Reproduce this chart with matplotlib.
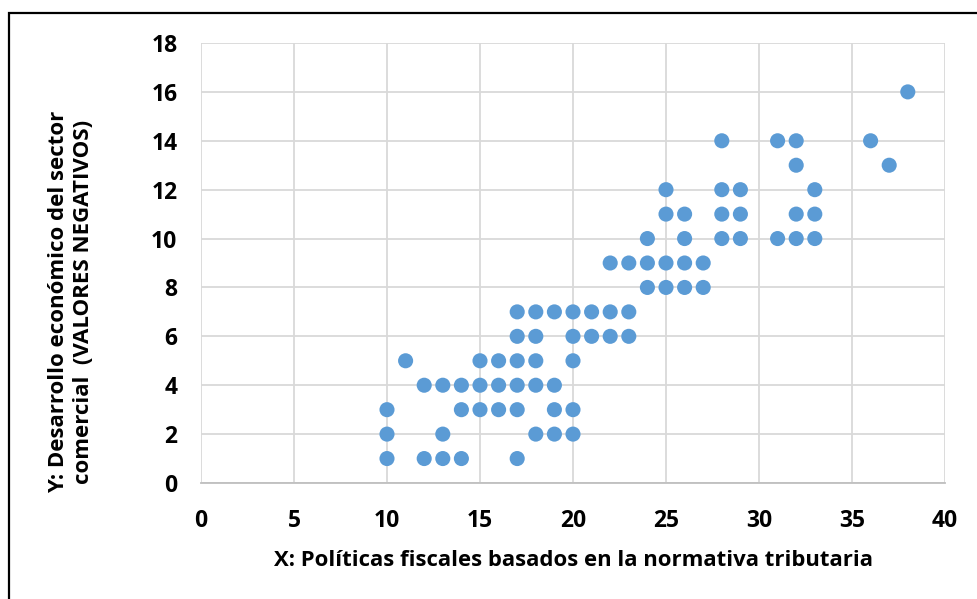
import matplotlib
matplotlib.use("Agg")
import matplotlib.pyplot as plt
from matplotlib.patches import Rectangle

plt.rcParams["font.family"] = ["Open Sans", "DejaVu Sans"]

# Policy score (X) and economic development score (Y) for each respondent
x_values = [
    38,
    28, 31, 32, 36,
    32, 37,
    25, 28, 29, 33,
    25, 26, 28, 29, 32, 33,
    24, 26, 28, 29, 31, 32, 33,
    22, 23, 24, 25, 26, 27,
    24, 25, 26, 27,
    17, 18, 19, 20, 21, 22, 23,
    17, 18, 20, 21, 22, 23,
    11, 15, 16, 17, 18, 20,
    12, 13, 14, 15, 16, 17, 18, 19,
    10, 14, 15, 16, 17, 19, 20,
    10, 13, 18, 19, 20,
    10, 12, 13, 14, 17,
]
y_values = [
    16,
    14, 14, 14, 14,
    13, 13,
    12, 12, 12, 12,
    11, 11, 11, 11, 11, 11,
    10, 10, 10, 10, 10, 10, 10,
    9, 9, 9, 9, 9, 9,
    8, 8, 8, 8,
    7, 7, 7, 7, 7, 7, 7,
    6, 6, 6, 6, 6, 6,
    5, 5, 5, 5, 5, 5,
    4, 4, 4, 4, 4, 4, 4, 4,
    3, 3, 3, 3, 3, 3, 3,
    2, 2, 2, 2, 2,
    1, 1, 1, 1, 1,
]
x_ticks = [0, 5, 10, 15, 20, 25, 30, 35, 40]
y_ticks = [0, 2, 4, 6, 8, 10, 12, 14, 16, 18]
x_label = "X: Políticas fiscales basados en la normativa tributaria"
y_label = "Y: Desarrollo económico del sector\ncomercial  (VALORES NEGATIVOS)"

W, H = 977, 599
fig = plt.figure(figsize=(W / 100, H / 100), dpi=100)
ax = fig.add_axes([201 / W, 1 - 483 / H, (945 - 201) / W, (483 - 43) / H])

ax.scatter(x_values, y_values, s=118, color="#5B9BD5", edgecolors="none", zorder=3)

ax.set_xlim(0, 40)
ax.set_ylim(0, 18)
ax.set_xticks(x_ticks)
ax.set_yticks(y_ticks)
ax.grid(True, color="#D9D9D9", linewidth=1.3, zorder=0)
ax.set_axisbelow(True)
for side in ("top", "right", "left"):
    ax.spines[side].set_visible(False)
ax.spines["bottom"].set_color("#BFBFBF")
ax.spines["bottom"].set_linewidth(1.3)
ax.tick_params(axis="both", length=0, labelsize=16.5)
ax.tick_params(axis="x", pad=19)
ax.tick_params(axis="y", pad=17)
for lbl in ax.get_xticklabels() + ax.get_yticklabels():
    lbl.set_fontweight("bold")

fig.text(574 / W, 1 - 560 / H, x_label, ha="center", va="center",
         fontsize=15.9, fontweight="bold")
fig.text(71 / W, 1 - 302 / H, y_label, ha="center", va="center",
         rotation=90, fontsize=16, fontweight="bold", linespacing=1.25,
         multialignment="center")

# outer chart frame
fig.patches.append(Rectangle((9 / W, -0.1), 1.2, 1 - 13 / H + 0.1,
                             transform=fig.transFigure, fill=False,
                             edgecolor="black", linewidth=1.6))

fig.savefig("out.png", dpi=100)
